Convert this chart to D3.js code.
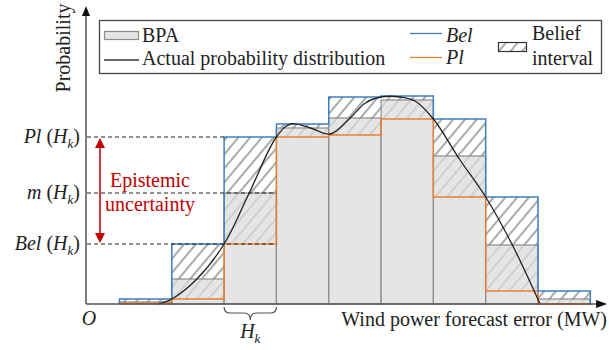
<!DOCTYPE html>
<html>
<head>
<meta charset="utf-8">
<script src="https://cdn.jsdelivr.net/npm/d3@7"></script>
<style>
  html, body { margin: 0; padding: 0; background: #fff; }
  svg { display: block; }
</style>
</head>
<body>
<div id="chart"></div>
<script>
// Bins of the wind power forecast error (index of each interval H)
const bins = [0, 1, 2, 3, 4, 5, 6, 7, 8];
// Plausibility (upper bound), BPA mass and belief (lower bound) per bin
const plValues = [0.005, 0.060, 0.167, 0.180, 0.207, 0.208, 0.185, 0.107, 0.013];
const bpaValues = [0.002, 0.025, 0.111, 0.176, 0.186, 0.204, 0.148, 0.059, 0.005];
const belValues = [0.001, 0.005, 0.060, 0.167, 0.169, 0.185, 0.107, 0.013, 0.000];
// Actual probability distribution (x in bin units)
const curveX = [0.74, 1.0, 1.48, 2.0, 2.48, 3.0, 3.27, 3.65, 4.03, 4.41, 4.70, 5.0, 5.37, 5.65, 6.0, 6.51, 7.0, 7.51, 8.04];
const curveY = [0.0, 0.005, 0.025, 0.060, 0.111, 0.167, 0.180, 0.176, 0.170, 0.186, 0.201, 0.207, 0.207, 0.203, 0.185, 0.144, 0.107, 0.059, 0.0];
// Highlighted bin H_k and its labels
const focusBin = 2;
const legendLabels = ['BPA', 'Actual probability distribution', 'Bel', 'Pl', 'Belief', 'interval'];

const W = 609, H = 350;
const blue = '#3f7fbf', orange = '#ed7d31', red = '#c00000';

const svg = d3.select('#chart').append('svg')
  .attr('width', W).attr('height', H);

const x = d3.scaleLinear().domain([-0.64, 9.3]).range([86, 606]);
const y = d3.scaleLinear().domain([0, 0.29]).range([304, 14]);

// hatch pattern
const defs = svg.append('defs');
defs.append('pattern')
  .attr('id', 'hatch')
  .attr('patternUnits', 'userSpaceOnUse')
  .attr('width', 9).attr('height', 9)
  .attr('patternTransform', 'rotate(40)')
  .append('line')
  .attr('x1', 1).attr('y1', 0).attr('x2', 1).attr('y2', 9)
  .attr('stroke', '#555').attr('stroke-width', 1);

const g = svg.append('g');

// belief interval (Bel .. Pl), hatched
g.selectAll('.interval')
  .data(bins)
  .enter().append('rect')
  .attr('x', (d) => x(d))
  .attr('width', x(1) - x(0))
  .attr('y', (d) => y(plValues[d]))
  .attr('height', (d) => y(belValues[d]) - y(plValues[d]))
  .attr('fill', 'url(#hatch)');

// BPA bars
g.selectAll('.bpa')
  .data(bins)
  .enter().append('rect')
  .attr('x', (d) => x(d))
  .attr('width', x(1) - x(0))
  .attr('y', (d) => y(bpaValues[d]))
  .attr('height', (d) => y(0) - y(bpaValues[d]))
  .attr('fill', '#dcdcdc')
  .attr('fill-opacity', 0.75)
  .attr('stroke', '#8c8c8c')
  .attr('stroke-width', 1.2);

// step outlines for Bel and Pl
function stepPoints(vals) {
  const pts = [[0, 0]];
  bins.forEach((b) => { pts.push([b, vals[b]]); pts.push([b + 1, vals[b]]); });
  pts.push([bins.length, 0]);
  return pts;
}
const stepLine = d3.line().x((d) => x(d[0])).y((d) => y(d[1]));

g.append('path').attr('d', stepLine(stepPoints(belValues)))
  .attr('fill', 'none').attr('stroke', orange).attr('stroke-width', 1.5);
g.append('path').attr('d', stepLine(stepPoints(plValues)))
  .attr('fill', 'none').attr('stroke', blue).attr('stroke-width', 1.5);

// dashed reference lines for H_k
const refLines = [
  { v: plValues[focusBin], to: focusBin },
  { v: bpaValues[focusBin], to: focusBin + 1 },
  { v: belValues[focusBin], to: focusBin + 1 },
];
g.selectAll('.ref')
  .data(refLines)
  .enter().append('line')
  .attr('x1', x.range()[0] + 1).attr('x2', (d) => x(d.to))
  .attr('y1', (d) => y(d.v)).attr('y2', (d) => y(d.v))
  .attr('stroke', '#222').attr('stroke-width', 1.1)
  .attr('stroke-dasharray', '4,3');

// actual distribution
const curveData = curveX.map((cx, i) => [cx, curveY[i]]);
g.append('path')
  .attr('d', d3.line().x((d) => x(d[0])).y((d) => y(d[1])).curve(d3.curveCatmullRom.alpha(0.5))(curveData))
  .attr('fill', 'none').attr('stroke', '#222').attr('stroke-width', 1.3);

// axes with arrows
const x0 = x.range()[0], y0 = y(0);
g.append('line').attr('x1', x0).attr('x2', x0).attr('y1', y0).attr('y2', y.range()[1])
  .attr('stroke', '#555').attr('stroke-width', 1.5);
g.append('line').attr('x1', x0).attr('x2', x(9.15)).attr('y1', y0).attr('y2', y0)
  .attr('stroke', '#555').attr('stroke-width', 1.5);
g.append('path')
  .attr('d', `M${x0 - 4},${y.range()[1] + 2} L${x0},${y.range()[1] - 8} L${x0 + 4},${y.range()[1] + 2} Z`)
  .attr('fill', '#111');
g.append('path')
  .attr('d', `M${x(9.15) - 2},${y0 - 4} L${x(9.15) + 9},${y0} L${x(9.15) - 2},${y0 + 4} Z`)
  .attr('fill', '#111');

// axis titles
svg.append('text')
  .attr('transform', `translate(70,${48}) rotate(-90)`)
  .attr('text-anchor', 'middle')
  .attr('font-size', 20)
  .attr('fill', '#222')
  .text('Probability');
svg.append('text')
  .attr('x', 607).attr('y', 326)
  .attr('text-anchor', 'end')
  .attr('font-size', 20)
  .attr('fill', '#222')
  .text('Wind power forecast error (MW)');
svg.append('text')
  .attr('x', 89).attr('y', 325)
  .attr('text-anchor', 'middle')
  .attr('font-size', 20)
  .attr('font-style', 'italic')
  .attr('fill', '#222')
  .text('O');

// brace under H_k
const bx0 = x(focusBin), bx1 = x(focusBin + 1), bm = (bx0 + bx1) / 2, by = 307;
g.append('path')
  .attr('d', `M${bx0},${by} Q${bx0},${by + 6} ${bx0 + 6},${by + 6} L${bm - 6},${by + 6} Q${bm},${by + 6} ${bm},${by + 13} ` +
             `Q${bm},${by + 6} ${bm + 6},${by + 6} L${bx1 - 6},${by + 6} Q${bx1},${by + 6} ${bx1},${by}`)
  .attr('fill', 'none').attr('stroke', '#555').attr('stroke-width', 1.2);

function hkLabel(sel, prefix) {
  if (prefix) sel.append('tspan').attr('font-style', 'italic').text(prefix);
  sel.append('tspan').text(prefix ? ' (' : '');
  sel.append('tspan').attr('font-style', 'italic').text('H');
  sel.append('tspan').attr('font-style', 'italic').attr('font-size', 13).attr('dy', 5).text('k');
  if (prefix) sel.append('tspan').attr('dy', -5).text(')');
}
hkLabel(svg.append('text').attr('x', bm).attr('y', 338).attr('text-anchor', 'middle')
  .attr('font-size', 20).attr('fill', '#222'), '');

// left labels
const leftLabels = [
  { name: 'Pl', v: plValues[focusBin] },
  { name: 'm', v: bpaValues[focusBin] },
  { name: 'Bel', v: belValues[focusBin] },
];
leftLabels.forEach((d) => {
  hkLabel(svg.append('text').attr('x', 80).attr('y', y(d.v) + 6).attr('text-anchor', 'end')
    .attr('font-size', 20).attr('fill', '#222'), d.name);
});

// epistemic uncertainty arrow
const ay1 = y(plValues[focusBin]) + 1, ay2 = y(belValues[focusBin]) - 1;
g.append('line').attr('x1', 100).attr('x2', 100).attr('y1', ay1 + 8).attr('y2', ay2 - 8)
  .attr('stroke', red).attr('stroke-width', 1.5);
g.append('path').attr('d', `M95,${ay1 + 10} L100,${ay1} L105,${ay1 + 10} Z`).attr('fill', red);
g.append('path').attr('d', `M95,${ay2 - 10} L100,${ay2} L105,${ay2 - 10} Z`).attr('fill', red);
svg.append('text').attr('x', 150).attr('y', 187).attr('text-anchor', 'middle')
  .attr('font-size', 20).attr('fill', red).text('Epistemic');
svg.append('text').attr('x', 150).attr('y', 211).attr('text-anchor', 'middle')
  .attr('font-size', 20).attr('fill', red).text('uncertainty');

// legend
const lg = svg.append('g');
lg.append('rect').attr('x', 99.5).attr('y', 20.5).attr('width', 502).attr('height', 53)
  .attr('fill', '#fff').attr('stroke', '#444').attr('stroke-width', 1.3);
lg.append('rect').attr('x', 104.5).attr('y', 31.5).attr('width', 34).attr('height', 8)
  .attr('fill', '#e4e4e4').attr('stroke', '#8c8c8c').attr('stroke-width', 1.2);
lg.append('line').attr('x1', 104).attr('x2', 139).attr('y1', 60).attr('y2', 60)
  .attr('stroke', '#333').attr('stroke-width', 1.3);
lg.append('line').attr('x1', 410).attr('x2', 442).attr('y1', 33.5).attr('y2', 33.5)
  .attr('stroke', blue).attr('stroke-width', 1.3);
lg.append('line').attr('x1', 410).attr('x2', 442).attr('y1', 57.5).attr('y2', 57.5)
  .attr('stroke', orange).attr('stroke-width', 1.3);
lg.append('rect').attr('x', 498.5).attr('y', 42.5).attr('width', 28).attr('height', 9)
  .attr('fill', 'url(#hatch)').attr('stroke', '#333').attr('stroke-width', 1.2);

const legendText = [
  { t: legendLabels[0], x: 142, y: 42, it: false },
  { t: legendLabels[1], x: 142, y: 65, it: false },
  { t: legendLabels[2], x: 446, y: 42, it: true },
  { t: legendLabels[3], x: 446, y: 64, it: true },
  { t: legendLabels[4], x: 532, y: 40, it: false },
  { t: legendLabels[5], x: 532, y: 65, it: false },
];
lg.selectAll('.lt')
  .data(legendText)
  .enter().append('text')
  .attr('x', (d) => d.x).attr('y', (d) => d.y)
  .attr('font-size', 20)
  .attr('font-style', (d) => (d.it ? 'italic' : 'normal'))
  .attr('fill', '#222')
  .text((d) => d.t);

// serif font on every text
svg.selectAll('text').style('font-family', '"Liberation Serif"');
</script>
</body>
</html>
